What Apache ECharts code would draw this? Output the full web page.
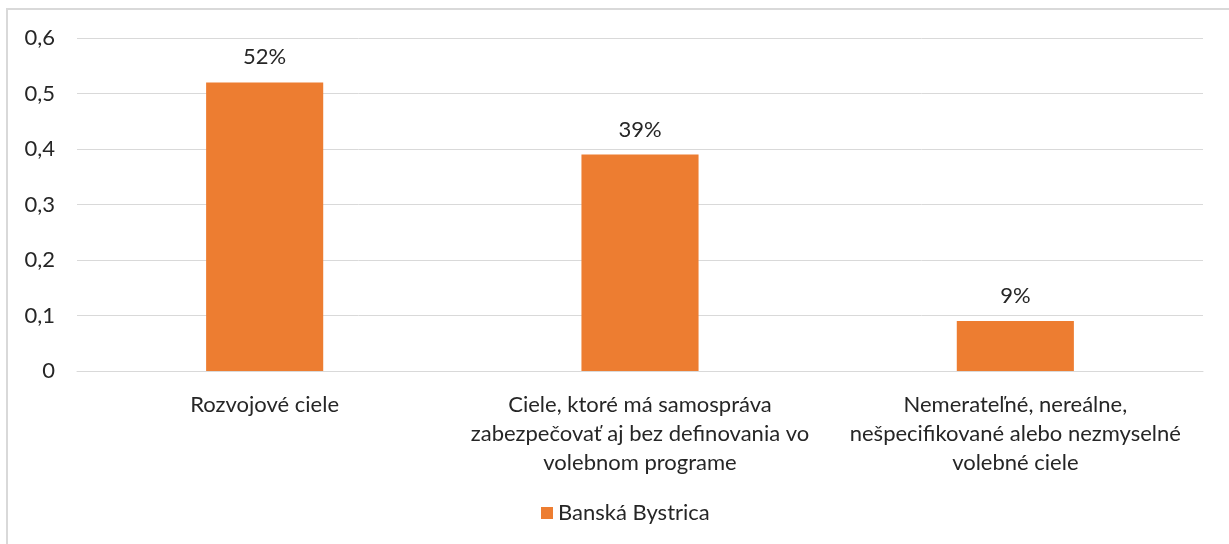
<!DOCTYPE html>
<html>
<head>
<meta charset="utf-8">
<script src="https://cdn.jsdelivr.net/npm/echarts@6/dist/echarts.min.js"></script>
<style>
  html, body { margin: 0; padding: 0; background: #ffffff; }
  #chart { width: 1229px; height: 544px; }
</style>
</head>
<body>
<div id="chart"></div>
<script>
// Categories (x axis), wrapped the way they are printed under the bars
const categories = [
  'Rozvojové ciele',
  'Ciele, ktoré má samospráva\nzabezpečovať aj bez definovania vo\nvolebnom programe',
  'Nemerateľné, nereálne,\nnešpecifikované alebo nezmyselné\nvolebné ciele'
];
// Share of goals per category
const seriesName = 'Banská Bystrica';
const values = [0.52, 0.39, 0.09];
// Value axis range
const yMin = 0;
const yMax = 0.6;
const yStep = 0.1;

const FONT = 'Lato, "Open Sans", sans-serif';
const TEXT = '#262626';
const FS = 22;

const chart = echarts.init(document.getElementById('chart'), null, { renderer: 'canvas' });

chart.setOption({
  animation: false,
  backgroundColor: '#ffffff',
  textStyle: { fontFamily: FONT, color: TEXT },
  graphic: [{
    type: 'rect',
    shape: { x: 7, y: 9, width: 1300, height: 600 },
    style: { fill: 'none', stroke: '#d9d9d9', lineWidth: 2 },
    silent: true,
    z: -1
  }],
  grid: { left: 77, right: 26, top: 38, bottom: 173, containLabel: false },
  legend: {
    left: 541,
    top: 502,
    padding: 0,
    itemWidth: 12,
    itemHeight: 12,
    icon: 'rect',
    textStyle: { fontFamily: FONT, fontSize: FS, lineHeight: 22, color: TEXT },
    data: [seriesName]
  },
  xAxis: {
    type: 'category',
    data: categories,
    axisLine: { show: true, lineStyle: { color: '#d9d9d9', width: 1 } },
    axisTick: { show: false },
    axisLabel: {
      interval: 0,
      margin: 19,
      fontFamily: FONT,
      fontSize: FS,
      lineHeight: 29,
      color: TEXT,
      align: 'center'
    }
  },
  yAxis: {
    type: 'value',
    min: yMin,
    max: yMax,
    interval: yStep,
    axisLine: { show: false },
    axisTick: { show: false },
    splitLine: { lineStyle: { color: '#d9d9d9', width: 1 } },
    axisLabel: {
      margin: 22,
      fontFamily: FONT,
      fontSize: FS,
      color: TEXT,
      formatter: v => (Math.round(v * 10) / 10).toString().replace('.', ',')
    }
  },
  series: [{
    name: seriesName,
    type: 'bar',
    data: values,
    barWidth: '31.2%',
    itemStyle: { color: '#ED7D31' },
    label: {
      show: true,
      position: 'top',
      distance: 14,
      fontFamily: FONT,
      fontSize: FS,
      color: TEXT,
      formatter: p => Math.round(p.value * 100) + '%'
    }
  }]
});
</script>
</body>
</html>
